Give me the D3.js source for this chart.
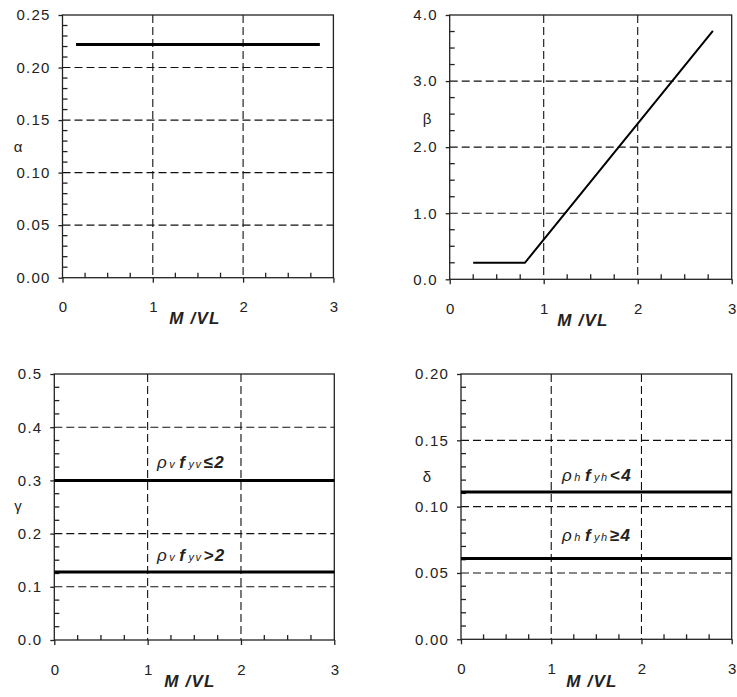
<!DOCTYPE html>
<html><head><meta charset="utf-8">
<script src="https://cdn.jsdelivr.net/npm/d3@7"></script>
<style>
body{margin:0;background:#fff;}
svg{display:block;}
text{font-family:"Liberation Sans",Arial,sans-serif;fill:#222;}
</style></head>
<body>
<svg id="chart" width="737" height="697"></svg>
<script>
// ---------- data ----------
const xTickValues = [0, 1, 2, 3];
const xLabel = "M /VL";

const alphaTicks = [0, 0.05, 0.10, 0.15, 0.20, 0.25];
const alphaX = [0.15, 2.85];
const alphaV = [0.222, 0.222];

const betaTicks = [0, 1, 2, 3, 4];
const betaX = [0.25, 0.8, 2.8];
const betaV = [0.25, 0.25, 3.76];

const gammaTicks = [0, 0.1, 0.2, 0.3, 0.4, 0.5];
const gammaX = [0, 3];
const gammaLowRho = [0.30, 0.30];   // rho_v f_yv <= 2
const gammaHighRho = [0.128, 0.128]; // rho_v f_yv > 2

const deltaTicks = [0, 0.05, 0.10, 0.15, 0.20];
const deltaX = [0, 3];
const deltaLowRho = [0.111, 0.111];  // rho_h f_yh < 4
const deltaHighRho = [0.061, 0.061]; // rho_h f_yh >= 4

// ---------- layout ----------
const svg = d3.select("#chart");

const panels = [
  {box:{l:62.5,r:333.4,t:15,b:277.7}, ymax:0.25, yTicks:alphaTicks, fmt:".2f", minor:0.01,
   ylab:"α", ylabPos:[18,148], xlabPos:[195,320],
   series:[{x:alphaX, y:alphaV, w:3}], notes:[]},
  {box:{l:449.7,r:731.7,t:15,b:279.3}, ymax:4, yTicks:betaTicks, fmt:".1f", minor:0.25,
   ylab:"β", ylabPos:[427,120], xlabPos:[583,322],
   series:[{x:betaX, y:betaV, w:2}], notes:[]},
  {box:{l:54.3,r:334.3,t:374,b:640}, ymax:0.5, yTicks:gammaTicks, fmt:".1f", minor:0.025,
   ylab:"γ", ylabPos:[18,507], xlabPos:[190,683],
   series:[{x:gammaX, y:gammaLowRho, w:3},{x:gammaX, y:gammaHighRho, w:3}],
   notes:[{x:1.1, y:0.323, a:"v", b:"yv", c:"≤2"},{x:1.1, y:0.148, a:"v", b:"yv", c:">2"}]},
  {box:{l:461,r:731.7,t:374,b:639.3}, ymax:0.2, yTicks:deltaTicks, fmt:".2f", minor:0.01,
   ylab:"δ", ylabPos:[427,478], xlabPos:[592,683],
   series:[{x:deltaX, y:deltaLowRho, w:3},{x:deltaX, y:deltaHighRho, w:3}],
   notes:[{x:1.12, y:0.119, a:"h", b:"yh", c:"<4"},{x:1.12, y:0.074, a:"h", b:"yh", c:"≥4"}]}
];

panels.forEach(p => {
  const B = p.box;
  const x = d3.scaleLinear().domain([0,3]).range([B.l,B.r]);
  const y = d3.scaleLinear().domain([0,p.ymax]).range([B.b,B.t]);
  const g = svg.append("g");

  // grid (dashed)
  const grid = g.append("g").attr("stroke","#111").attr("stroke-width",1.1).attr("stroke-dasharray","8,4");
  xTickValues.filter(v => v>0 && v<3).forEach(v => {
    grid.append("line").attr("x1",x(v)).attr("x2",x(v)).attr("y1",B.t).attr("y2",B.b);
  });
  p.yTicks.filter(v => v>0 && v<p.ymax-1e-9).forEach(v => {
    grid.append("line").attr("x1",B.l).attr("x2",B.r).attr("y1",y(v)).attr("y2",y(v));
  });

  // frame
  g.append("rect").attr("x",B.l).attr("y",B.t).attr("width",B.r-B.l).attr("height",B.b-B.t)
    .attr("fill","none").attr("stroke","#222").attr("stroke-width",1.3);

  // y axis: major ticks outward, minor inward
  const yAxis = d3.axisLeft(y).tickValues(p.yTicks).tickFormat(d3.format(p.fmt)).tickSize(4).tickPadding(8);
  const ya = g.append("g").attr("transform",`translate(${B.l},0)`).call(yAxis);
  ya.select(".domain").remove();
  ya.selectAll("line").attr("stroke","#222").attr("stroke-width",1.3);
  ya.selectAll("text").style("font-size","15px").style("letter-spacing","1.2px").attr("fill","#333");
  const yMinor = d3.range(0, p.ymax+1e-9, p.minor).filter(v => !p.yTicks.some(t => Math.abs(t-v)<1e-9));
  g.append("g").selectAll("line").data(yMinor).join("line")
    .attr("x1",B.l).attr("x2",B.l+5).attr("y1",d=>y(d)).attr("y2",d=>y(d))
    .attr("stroke","#222").attr("stroke-width",1.3);

  // x axis
  const xAxis = d3.axisBottom(x).tickValues(xTickValues).tickFormat(d3.format("d")).tickSize(5).tickPadding(19);
  const xa = g.append("g").attr("transform",`translate(0,${B.b})`).call(xAxis);
  xa.select(".domain").remove();
  xa.selectAll("line").attr("stroke","#222").attr("stroke-width",1.3);
  xa.selectAll("text").style("font-size","15px").attr("fill","#333");
  const xMinor = d3.range(0, 3.0001, 0.25).filter(v => Math.abs(v-Math.round(v))>1e-9);
  g.append("g").selectAll("line").data(xMinor).join("line")
    .attr("x1",d=>x(d)).attr("x2",d=>x(d)).attr("y1",B.b).attr("y2",B.b-5)
    .attr("stroke","#222").attr("stroke-width",1.3);

  // series
  p.series.forEach(s => {
    const pts = s.x.map((v,i)=>[v, s.y[i]]);
    g.append("path").datum(pts)
      .attr("d", d3.line().x(d=>x(d[0])).y(d=>y(d[1])))
      .attr("fill","none").attr("stroke","#000").attr("stroke-width",s.w);
  });

  // annotations
  p.notes.forEach(n => {
    const t = g.append("text").attr("x",x(n.x)).attr("y",y(n.y))
      .style("font-size","17px").style("font-style","italic").style("letter-spacing","1.5px").attr("fill","#111");
    t.append("tspan").text("ρ");
    t.append("tspan").text(n.a).style("font-size","11px").attr("dx",1);
    t.append("tspan").text("f").style("font-weight","bold").attr("dx",3);
    t.append("tspan").text(n.b).style("font-size","11px").attr("dx",2);
    t.append("tspan").text(n.c).style("font-weight","bold").attr("dx",1);
  });

  // axis labels
  g.append("text").attr("x",p.ylabPos[0]).attr("y",p.ylabPos[1]).attr("text-anchor","middle")
    .attr("dominant-baseline","middle").style("font-size","15px").text(p.ylab);
  g.append("text").attr("x",p.xlabPos[0]).attr("y",p.xlabPos[1]).attr("text-anchor","middle")
    .attr("dominant-baseline","middle").style("font-size","17px").style("font-style","italic")
    .style("font-weight","bold").style("letter-spacing","1.2px").text(xLabel);
});
</script>
</body></html>
